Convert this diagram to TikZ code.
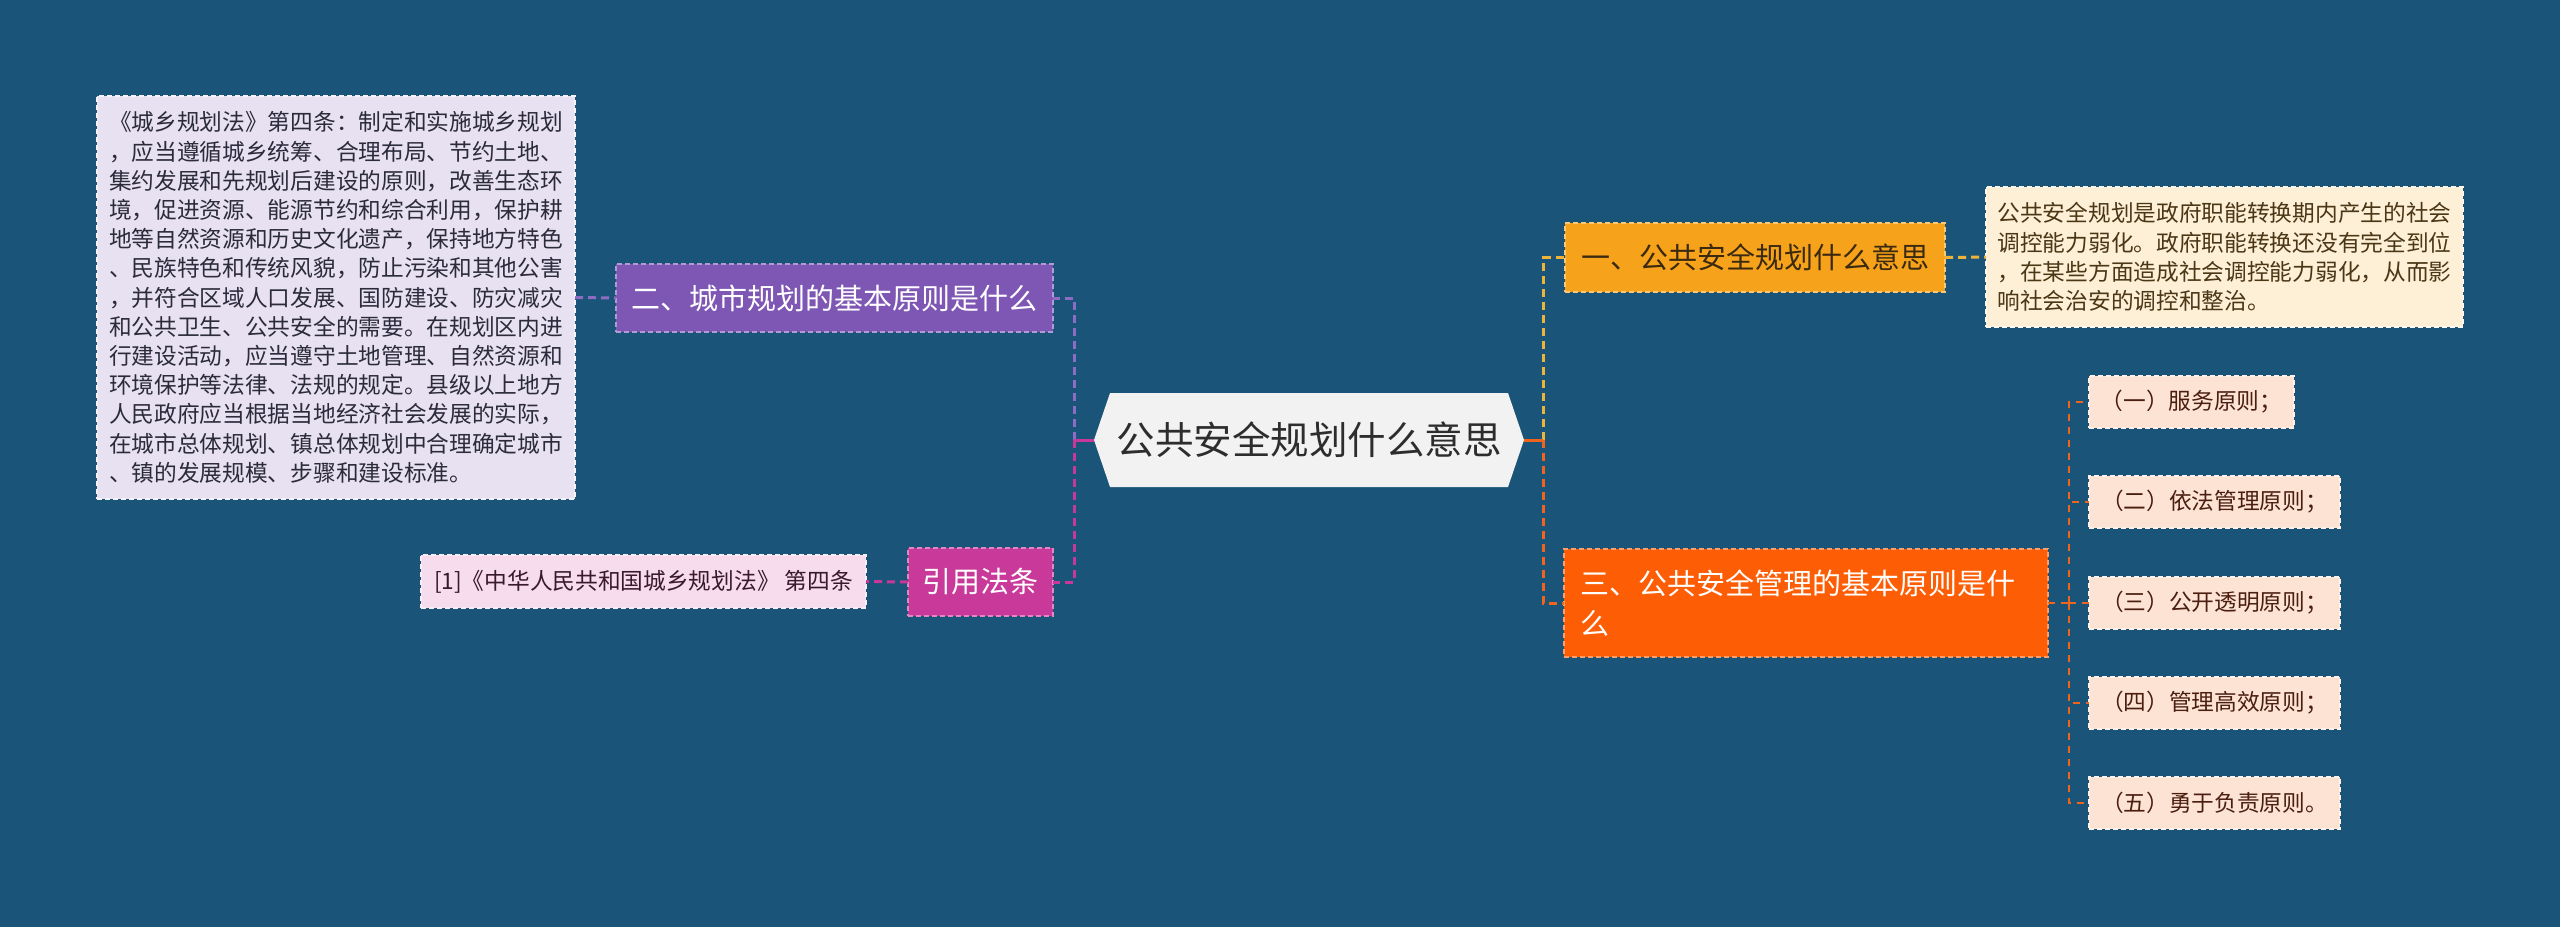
\documentclass[tikz,border=0pt]{standalone}
\usepackage{fontspec}
\setmainfont{Noto Sans CJK SC}
\definecolor{bg}{HTML}{1A5478}
\definecolor{lavfill}{HTML}{E7E1F1}
\definecolor{lavtext}{HTML}{2B2B3B}
\definecolor{purfill}{HTML}{7E57B5}
\definecolor{pinkfill}{HTML}{C9399A}
\definecolor{citfill}{HTML}{F6DCEC}
\definecolor{cittext}{HTML}{3A1A2A}
\definecolor{hexfill}{HTML}{F2F2F2}
\definecolor{hextext}{HTML}{2D2D2D}
\definecolor{yelfill}{HTML}{F6A31B}
\definecolor{yeltext}{HTML}{3B2A10}
\definecolor{descfill}{HTML}{FDF0D6}
\definecolor{desctext}{HTML}{4B3616}
\definecolor{orfill}{HTML}{FD5D04}
\definecolor{kidfill}{HTML}{FDE3D3}
\definecolor{kidtext}{HTML}{4A1E10}
\definecolor{purline}{HTML}{8E6CC4}
\definecolor{pinkline}{HTML}{C8389A}
\definecolor{yelline}{HTML}{EEB43A}
\definecolor{orline}{HTML}{F0641C}
\tikzset{
  base/.style={inner sep=0pt, outer sep=0pt, anchor=north west, line width=1.5pt, dash pattern=on 5pt off 3pt},
  fs/.style={font=\fontsize{22.7}{29.2}\selectfont},
  fm/.style={font=\fontsize{29}{40}\selectfont},
  conn/.style={line width=3pt, dash pattern=on 8pt off 5pt},
  conntwo/.style={line width=2pt, dash pattern=on 7pt off 6pt, orline},
  kid/.style={base, fs, fill=kidfill, draw=kidfill!50!white, text=kidtext, minimum height=52pt},
}
\begin{document}
\begin{tikzpicture}[x=1pt,y=-1pt]
\useasboundingbox (0,0) rectangle (2560,927);
\fill[bg] (0,0) rectangle (2560,927);

% left side
\node[base, fs, fill=lavfill, draw=lavfill!40!white, text=lavtext, align=left,
      minimum width=478pt, minimum height=403pt] (t1) at (97,96)
{《城乡规划法》第四条：制定和实施城乡规划\\
，应当遵循城乡统筹、合理布局、节约土地、\\
集约发展和先规划后建设的原则，改善生态环\\
境，促进资源、能源节约和综合利用，保护耕\\
地等自然资源和历史文化遗产，保持地方特色\\
、民族特色和传统风貌，防止污染和其他公害\\
，并符合区域人口发展、国防建设、防灾减灾\\
和公共卫生、公共安全的需要。在规划区内进\\
行建设活动，应当遵守土地管理、自然资源和\\
环境保护等法律、法规的规定。县级以上地方\\
人民政府应当根据当地经济社会发展的实际，\\
在城市总体规划、镇总体规划中合理确定城市\\
、镇的发展规模、步骤和建设标准。};

\node[base, fm, fill=purfill, draw=purfill!60!white, text=white,
      minimum width=437pt, minimum height=68pt] (p1) at (616,264) {二、城市规划的基本原则是什么};
\node[base, fm, fill=pinkfill, draw=pinkfill!60!white, text=white,
      minimum width=145pt, minimum height=68pt] (p2) at (908,548) {引用法条};
\node[base, fs, fill=citfill, draw=citfill!50!white, text=cittext,
      minimum width=445pt, minimum height=53pt] (cit) at (421,555) {[1]《中华人民共和国城乡规划法》 第四条};

% center
\node[inner sep=0pt, outer sep=0pt, minimum width=430pt, minimum height=94pt, fill=bg,
      font=\fontsize{38.5}{40}\selectfont, text=hextext,
      path picture={\fill[hexfill] (path picture bounding box.west)
        -- ([xshift=16pt]path picture bounding box.north west)
        -- ([xshift=-16pt]path picture bounding box.north east)
        -- (path picture bounding box.east)
        -- ([xshift=-16pt]path picture bounding box.south east)
        -- ([xshift=16pt]path picture bounding box.south west) -- cycle;}] (c) at (1309,440) {公共安全规划什么意思};

% right side
\node[base, fm, fill=yelfill, draw=yelfill!60!white, text=yeltext,
      minimum width=380pt, minimum height=69pt] (y1) at (1565,223) {一、公共安全规划什么意思};
\node[base, fs, fill=descfill, draw=descfill!40!white, text=desctext, align=left,
      minimum width=477pt, minimum height=140pt] (d1) at (1986,187)
{公共安全规划是政府职能转换期内产生的社会\\
调控能力弱化。政府职能转换还没有完全到位\\
，在某些方面造成社会调控能力弱化，从而影\\
响社会治安的调控和整治。};
\node[base, fm, fill=orfill, draw=orfill!60!white, text=white, align=left, text width=452pt,
      minimum width=484pt, minimum height=108pt] (o1) at (1564,549)
{三、公共安全管理的基本原则是什\\么};

\node[kid, minimum width=205pt] (k1) at (2089,376) {（一）服务原则；};
\node[kid, minimum width=251pt] (k2) at (2089,476) {（二）依法管理原则；};
\node[kid, minimum width=251pt] (k3) at (2089,577) {（三）公开透明原则；};
\node[kid, minimum width=251pt] (k4) at (2089,677) {（四）管理高效原则；};
\node[kid, minimum width=251pt] (k5) at (2089,777) {（五）勇于负责原则。};

% connectors left
\coordinate (jl) at (1074,440);
\draw[conn, purline] (t1.east) -- (p1.west);
\draw[conn, purline] (jl) |- (p1.east);
\draw[conn, pinkline] (jl) |- (p2.east);
\draw[conn, pinkline] (p2.west) -- (cit.east);
\draw[line width=3pt, pinkline] (c.west) -- (jl);

% connectors right
\coordinate (jr) at (1543,440);
\draw[conn, yelline] (jr) |- (y1.west);
\draw[conn, orline] (jr) |- (o1.west);
\draw[line width=3pt, orline] (c.east) -- (jr);
\draw[conn, yelline] (y1.east) -- (d1.west);

\coordinate (jo) at (2069,603);
\draw[conntwo] (o1.east) -- (jo);
\draw[conntwo] (jo) |- (k1.west);
\draw[conntwo] (jo) |- (k2.west);
\draw[conntwo] (jo) -- (k3.west);
\draw[conntwo] (jo) |- (k4.west);
\draw[conntwo] (jo) |- (k5.west);
\end{tikzpicture}
\end{document}
